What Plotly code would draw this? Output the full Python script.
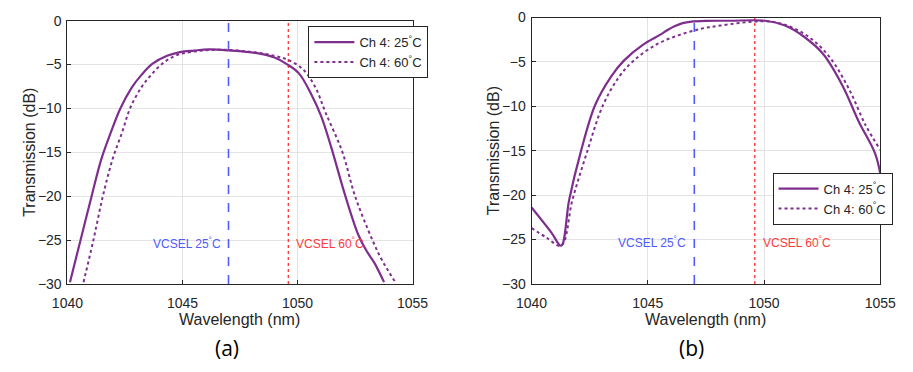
import plotly.graph_objects as go

# ---- data: panel (a) ----
a25_x = [1040.11, 1040.56, 1041.05, 1041.47, 1041.89, 1042.3, 1042.8, 1043.21, 1043.7, 1044.33, 1044.89,
         1045.5, 1046.15, 1047.0, 1048.24, 1049.0, 1049.57, 1050.06, 1050.6, 1051.03, 1051.45, 1052.08,
         1052.64, 1052.99, 1053.34, 1053.76]
a25_y = [-29.8, -25.1, -20.0, -15.8, -12.7, -10.0, -7.6, -6.2, -4.9, -4.0, -3.57,
         -3.4, -3.27, -3.38, -3.7, -4.2, -5.0, -6.0, -8.4, -10.9, -14.3, -20.0,
         -24.4, -26.2, -27.6, -29.8]
a60_x = [1040.7, 1041.12, 1041.54, 1041.96, 1042.38, 1042.72, 1043.21, 1043.63, 1044.12, 1044.68, 1045.4,
         1046.7, 1048.24, 1049.0, 1049.57, 1050.2, 1050.75, 1051.23, 1051.94, 1052.5, 1053.27, 1053.65,
         1054.25]
a60_y = [-29.8, -25.1, -20.0, -15.8, -12.7, -10.0, -7.6, -6.2, -4.9, -4.0, -3.55,
         -3.3, -3.64, -4.0, -4.44, -5.45, -7.46, -10.55, -14.9, -20.0, -25.1, -27.2,
         -29.8]

# ---- data: panel (b) ----
b25_x = [1040.0, 1040.86, 1041.27, 1041.62, 1042.1, 1042.73, 1043.42, 1043.97, 1044.8, 1045.5, 1045.85,
         1046.17, 1046.5, 1046.88, 1047.5, 1048.5, 1050.06, 1050.9, 1051.72, 1052.55, 1053.38, 1054.07,
         1054.77, 1055.0]
b25_y = [-21.4, -24.25, -25.7, -20.5, -15.3, -9.88, -6.65, -4.85, -3.05, -1.98, -1.4,
         -0.95, -0.62, -0.45, -0.37, -0.36, -0.36, -0.9, -2.16, -4.13, -7.7, -11.7,
         -15.27, -17.6]
b60_x = [1040.0, 1040.65, 1041.27, 1041.76, 1042.38, 1043.07, 1043.77, 1044.39, 1045.36, 1046.33, 1047.29,
         1048.12, 1049.5, 1050.34, 1051.17, 1052.0, 1052.83, 1053.66, 1054.35, 1055.0]
b60_y = [-23.7, -24.8, -25.7, -20.5, -15.2, -9.88, -6.65, -4.85, -3.05, -1.98, -1.26,
         -0.9, -0.47, -0.47, -1.08, -2.33, -4.49, -8.08, -12.04, -14.9]

vcsel_25 = 1047.0
vcsel_60 = 1049.6
vcsel_label_y = -25.3
x_range = [1040, 1055]
y_range = [-30, 0]
x_ticks = [1040, 1045, 1050, 1055]
y_ticks = [0, -5, -10, -15, -20, -25, -30]
series_names = ["Ch 4: 25<sup>°</sup>C", "Ch 4: 60<sup>°</sup>C"]
vcsel_labels = ["VCSEL 25<sup>°</sup>C", "VCSEL 60<sup>°</sup>C"]
panel_labels = ["(a)", "(b)"]

PURPLE = "#7E2F8E"
BLUE = "#4F5BFF"
RED = "#FF3B3B"
TXT = "#262626"
FONT = "Liberation Sans"

fig = go.Figure()

panels = [
    (a25_x, a25_y, a60_x, a60_y, "x", "y", "legend"),
    (b25_x, b25_y, b60_x, b60_y, "x2", "y2", "legend2"),
]
for (x1, y1, x2, y2, xa, ya, lg) in panels:
    fig.add_trace(go.Scatter(x=[vcsel_25, vcsel_25], y=y_range, mode="lines",
                             line=dict(color=BLUE, width=1.6, dash="dash"),
                             showlegend=False, xaxis=xa, yaxis=ya))
    fig.add_trace(go.Scatter(x=[vcsel_60, vcsel_60], y=y_range, mode="lines",
                             line=dict(color=RED, width=1.4, dash="dot"),
                             showlegend=False, xaxis=xa, yaxis=ya))
    fig.add_trace(go.Scatter(x=x1, y=y1, mode="lines", name=series_names[0],
                             line=dict(color=PURPLE, width=2.2, shape="spline", smoothing=1.0),
                             xaxis=xa, yaxis=ya, legend=lg))
    fig.add_trace(go.Scatter(x=x2, y=y2, mode="lines", name=series_names[1],
                             line=dict(color=PURPLE, width=2, dash="dot", shape="spline", smoothing=1.0),
                             xaxis=xa, yaxis=ya, legend=lg))

W, H = 913, 372
def fx(p): return p / W
def fy(p): return 1 - p / H

axis_common = dict(range=x_range, tickvals=x_ticks, showgrid=True, gridcolor="#E3E3E3",
                   showline=True, linecolor="#262626", linewidth=1, mirror=True,
                   ticks="inside", ticklen=4, tickcolor="#262626", zeroline=False,
                   ticklabelstandoff=6,
                   tickfont=dict(size=14, color=TXT, family=FONT))
yaxis_common = dict(range=y_range, tickvals=y_ticks, showgrid=True, gridcolor="#E3E3E3",
                    showline=True, linecolor="#262626", linewidth=1, mirror=True,
                    ticks="inside", ticklen=4, tickcolor="#262626", zeroline=False,
                    ticklabelstandoff=2,
                    tickfont=dict(size=14, color=TXT, family=FONT))

fig.update_layout(
    width=W, height=H, margin=dict(l=0, r=0, t=0, b=0),
    paper_bgcolor="white", plot_bgcolor="white",
    font=dict(family=FONT, color=TXT, size=13),
    xaxis=dict(domain=[fx(53.3), fx(411)], anchor="y", **axis_common),
    yaxis=dict(domain=[fy(288.3), fy(13.3)], anchor="x", **yaxis_common),
    xaxis2=dict(domain=[fx(534.3), fx(895.7)], anchor="y2", **axis_common),
    yaxis2=dict(domain=[fy(288.3), fy(10)], anchor="x2", **yaxis_common),
    legend=dict(x=fx(303), y=fy(19), xanchor="left", yanchor="top",
                bgcolor="white", bordercolor="#262626", borderwidth=1,
                font=dict(size=13, color=TXT, family=FONT), tracegroupgap=0, itemwidth=40),
    legend2=dict(x=fx(784), y=fy(172), xanchor="left", yanchor="top",
                 bgcolor="white", bordercolor="#262626", borderwidth=1,
                 font=dict(size=13, color=TXT, family=FONT), tracegroupgap=0, itemwidth=40),
)

# axis titles (as annotations for precise placement)
for cx, ytx, ycy, lab, lcx in [(232, 14, 150.8, panel_labels[0], 219),
                               (715, 495, 149, panel_labels[1], 700)]:
    fig.add_annotation(x=fx(cx), y=fy(325), xref="paper", yref="paper", text="Wavelength (nm)",
                       showarrow=False, xanchor="center", yanchor="middle",
                       font=dict(size=16, color=TXT, family=FONT))
    fig.add_annotation(x=fx(ytx), y=fy(ycy), xref="paper", yref="paper", text="Transmission (dB)",
                       showarrow=False, textangle=-90, xanchor="center", yanchor="middle",
                       font=dict(size=16, color=TXT, family=FONT))
    fig.add_annotation(x=fx(lcx), y=fy(355), xref="paper", yref="paper", text=lab, showarrow=False,
                       xanchor="center", yanchor="middle",
                       font=dict(size=21, color="#000000", family="Open Sans"))

for xa, ya in [("x", "y"), ("x2", "y2")]:
    fig.add_annotation(x=vcsel_25, y=vcsel_label_y, xref=xa, yref=ya, text=vcsel_labels[0], showarrow=False,
                       xanchor="right", xshift=-6, font=dict(size=12, color=BLUE, family=FONT))
    fig.add_annotation(x=vcsel_60, y=vcsel_label_y, xref=xa, yref=ya, text=vcsel_labels[1], showarrow=False,
                       xanchor="left", xshift=6, font=dict(size=12, color=RED, family=FONT))

fig.write_html("out.html")
